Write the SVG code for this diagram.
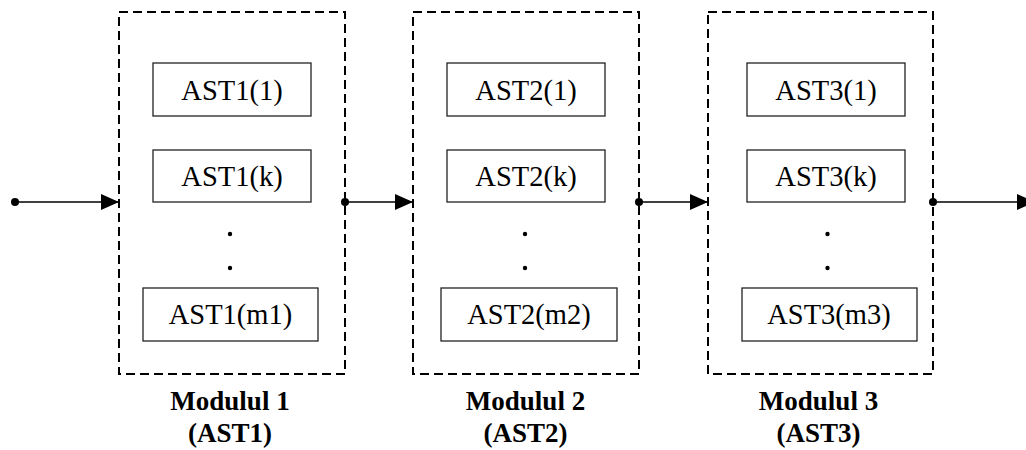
<svg xmlns="http://www.w3.org/2000/svg" width="1026" height="450" viewBox="0 0 1026 450">
<style>
.mod{fill:none;stroke:#000;stroke-width:2;stroke-dasharray:9 5}
.box{fill:#fff;stroke:#222;stroke-width:1.3}
.t{font-size:28.5px;fill:#000;text-anchor:middle}
.lbl{font-size:27px;font-weight:bold;fill:#000;text-anchor:middle}
.dot{fill:#000}
.ln{stroke:#000;stroke-width:1.5;fill:none;marker-end:url(#ah)}
</style>
<defs>
<marker id="ah" markerUnits="userSpaceOnUse" markerWidth="19" markerHeight="17" viewBox="0 0 19 17" refX="18" refY="8.5" orient="auto">
<path d="M0,0.5 L18,8.5 L0,16.5 Z" fill="#000"/>
</marker>
</defs>
<g id="connectors">
<line class="ln" x1="15" y1="202" x2="119" y2="202"/>
<circle class="dot" cx="15" cy="202" r="4"/>
<line class="ln" x1="345" y1="202" x2="413" y2="202"/>
<circle class="dot" cx="345" cy="202" r="4"/>
<line class="ln" x1="639" y1="202" x2="708" y2="202"/>
<circle class="dot" cx="639" cy="202" r="4"/>
<line class="ln" x1="933" y1="202" x2="1035" y2="202"/>
<circle class="dot" cx="933" cy="202" r="4"/>
</g>
<g font-family="Liberation Serif, Times New Roman, serif">
<g id="module1">
<rect class="mod" x="119" y="12" width="226" height="362"/>
<rect class="box" x="153" y="63" width="158" height="53"/>
<text class="t" x="232" y="100">AST1(1)</text>
<rect class="box" x="153" y="150" width="158" height="52"/>
<text class="t" x="232" y="186">AST1(k)</text>
<circle class="dot" cx="230" cy="234" r="2.2"/>
<circle class="dot" cx="230" cy="268" r="2.2"/>
<rect class="box" x="143" y="288" width="175" height="53"/>
<text class="t" x="230.5" y="324">AST1(m1)</text>
<text class="lbl" x="230" y="410">Modulul 1</text>
<text class="lbl" x="230" y="442">(AST1)</text>
</g>
<g id="module2">
<rect class="mod" x="413" y="12" width="226" height="362"/>
<rect class="box" x="447" y="63" width="158" height="53"/>
<text class="t" x="526" y="100">AST2(1)</text>
<rect class="box" x="447" y="150" width="158" height="52"/>
<text class="t" x="526" y="186">AST2(k)</text>
<circle class="dot" cx="525" cy="234" r="2.2"/>
<circle class="dot" cx="525" cy="268" r="2.2"/>
<rect class="box" x="441" y="288" width="176" height="53"/>
<text class="t" x="529" y="324">AST2(m2)</text>
<text class="lbl" x="525.5" y="410">Modulul 2</text>
<text class="lbl" x="525.5" y="442">(AST2)</text>
</g>
<g id="module3">
<rect class="mod" x="708" y="12" width="225" height="362"/>
<rect class="box" x="747" y="63" width="158" height="53"/>
<text class="t" x="826" y="100">AST3(1)</text>
<rect class="box" x="747" y="150" width="158" height="52"/>
<text class="t" x="826" y="186">AST3(k)</text>
<circle class="dot" cx="827.5" cy="234" r="2.2"/>
<circle class="dot" cx="827.5" cy="268" r="2.2"/>
<rect class="box" x="742" y="288" width="175" height="53"/>
<text class="t" x="829" y="324">AST3(m3)</text>
<text class="lbl" x="818.5" y="410">Modulul 3</text>
<text class="lbl" x="818.5" y="442">(AST3)</text>
</g>
</g>
</svg>
